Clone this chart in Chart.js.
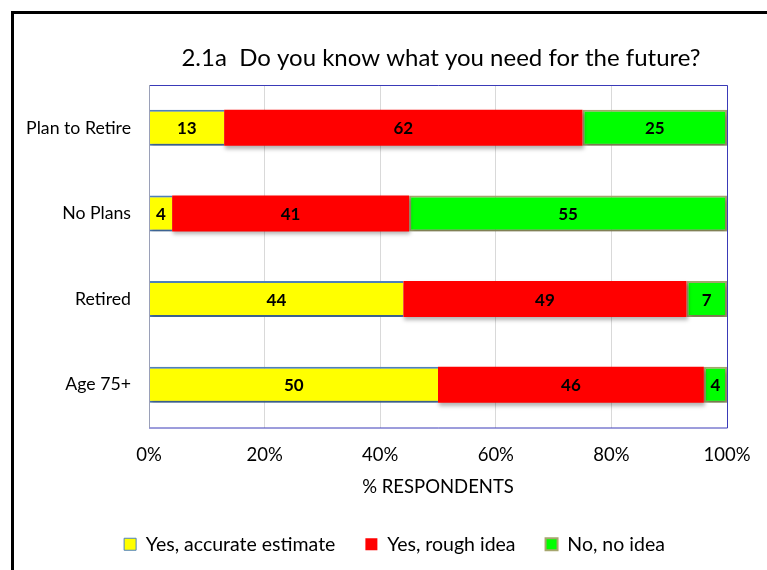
<!DOCTYPE html>
<html><head><meta charset="utf-8">
<script src="https://cdn.jsdelivr.net/npm/chart.js@4.4.0/dist/chart.umd.min.js"></script>
<style>
html,body{margin:0;padding:0;background:#fff;overflow:hidden}
#wrap{position:relative;width:767px;height:570px}
#frame{position:absolute;left:11px;top:11px;width:800px;height:600px;border:3px solid #000;box-sizing:border-box;pointer-events:none}
canvas{position:absolute;left:0;top:0}
</style></head><body>
<div id="wrap"><canvas id="c" width="767" height="570"></canvas><div id="frame"></div></div>
<script>
const categories = ['Plan to Retire', 'No Plans', 'Retired', 'Age 75+'];
const seriesNames = ['Yes, accurate estimate', 'Yes, rough idea', 'No, no idea'];
const accurate = [13, 4, 44, 50];
const rough = [62, 41, 49, 46];
const noIdea = [25, 55, 7, 4];
const xTickValues = [0, 20, 40, 60, 80, 100];
const chartTitle = '2.1a  Do you know what you need for the future?';
const xAxisTitle = '% RESPONDENTS';

const FONT = 'Lato, "Open Sans", sans-serif';

const titlePlugin = {
  id: 'centeredTitle',
  afterDraw(chart) {
    const {ctx, chartArea} = chart;
    ctx.save();
    ctx.font = '24px ' + FONT;
    ctx.fillStyle = '#000';
    ctx.textAlign = 'center';
    ctx.textBaseline = 'middle';
    ctx.fillText(chartTitle, (chartArea.left + chartArea.right) / 2 + 3, 58);
    ctx.restore();
  }
};

// widen the y-axis label clip region to the left so long category names are not cut
const labelRoomPlugin = {
  id: 'labelRoom',
  afterLayout(chart) {
    chart.scales.y.left = 15;
  }
};

const framePlugin = {
  id: 'plotFrame',
  afterDatasetsDraw(chart) {
    const {ctx, chartArea: a} = chart;
    ctx.save();
    ctx.lineWidth = 1;
    ctx.strokeStyle = '#3a3ab8';
    ctx.beginPath();
    ctx.moveTo(a.left, a.top + 0.5); ctx.lineTo(a.right + 0.5, a.top + 0.5);
    ctx.lineTo(a.right + 0.5, a.bottom + 0.5); ctx.lineTo(a.left, a.bottom + 0.5);
    ctx.stroke();
    ctx.strokeStyle = '#9aa0b8';
    ctx.beginPath();
    ctx.moveTo(a.left + 0.5, a.top); ctx.lineTo(a.left + 0.5, a.bottom);
    ctx.stroke();
    ctx.restore();
  }
};

const shadowPlugin = {
  id: 'barShadow',
  beforeDatasetsDraw(chart) {
    const ctx = chart.ctx;
    ctx.save();
    ctx.shadowColor = 'rgba(0,0,0,0.3)';
    ctx.shadowBlur = 4;
    ctx.shadowOffsetX = 1;
    ctx.shadowOffsetY = 3;
  },
  afterDatasetsDraw(chart) {
    chart.ctx.restore();
  }
};

const labelPlugin = {
  id: 'segLabels',
  afterDatasetsDraw(chart) {
    const ctx = chart.ctx;
    ctx.save();
    ctx.font = 'bold 17px ' + FONT;
    ctx.fillStyle = '#000';
    ctx.textAlign = 'center';
    ctx.textBaseline = 'middle';
    chart.data.datasets.forEach((ds, i) => {
      const meta = chart.getDatasetMeta(i);
      meta.data.forEach((bar, j) => {
        const v = ds.data[j];
        if (!v) return;
        ctx.fillText(String(v), (bar.x + bar.base) / 2, bar.y + 1);
      });
    });
    ctx.restore();
  }
};

new Chart(document.getElementById('c'), {
  type: 'bar',
  data: {
    labels: categories,
    datasets: [
      {label: seriesNames[0], data: accurate, backgroundColor: '#ffff00', borderColor: '#4f81bd', borderWidth: {top: 2, bottom: 2, left: 0, right: 0}, borderSkipped: false},
      {label: seriesNames[1], data: rough, backgroundColor: '#ff0000', borderColor: '#ff0000', borderWidth: 0},
      {label: seriesNames[2], data: noIdea, backgroundColor: '#00ff00', borderColor: '#a6a66e', borderWidth: 2, borderSkipped: false}
    ]
  },
  options: {
    indexAxis: 'y',
    responsive: false,
    animation: false,
    events: [],
    layout: {padding: {top: 85, right: 40, left: 62, bottom: 6}},
    datasets: {bar: {categoryPercentage: 1, barPercentage: 0.42}},
    scales: {
      x: {
        stacked: true, min: 0, max: 100,
        afterBuildTicks(scale) { scale.ticks = xTickValues.map(v => ({value: v})); },
        afterFit(scale) { scale.height = 77; },
        ticks: {callback: v => v + '%', font: {family: FONT, size: 18.5}, color: '#000', padding: 16, maxRotation: 0},
        grid: {color: '#d9d9d9', drawTicks: false},
        border: {display: false},
        title: {display: true, text: xAxisTitle, font: {family: FONT, size: 18.5}, color: '#000', padding: {top: 6, bottom: 6}}
      },
      y: {
        stacked: true,
        afterFit(scale) { scale.width = 87; },
        ticks: {font: {family: FONT, size: 17.7}, color: '#000', padding: 10},
        grid: {display: false},
        border: {display: false}
      }
    },
    plugins: {
      title: {display: false},
      tooltip: {enabled: false},
      legend: {
        position: 'bottom',
        labels: {boxWidth: 12, boxHeight: 12, font: {family: FONT, size: 19.5}, color: '#000', padding: 30}
      }
    }
  },
  plugins: [labelRoomPlugin, shadowPlugin, framePlugin, labelPlugin, titlePlugin]
});
</script>
</body></html>
